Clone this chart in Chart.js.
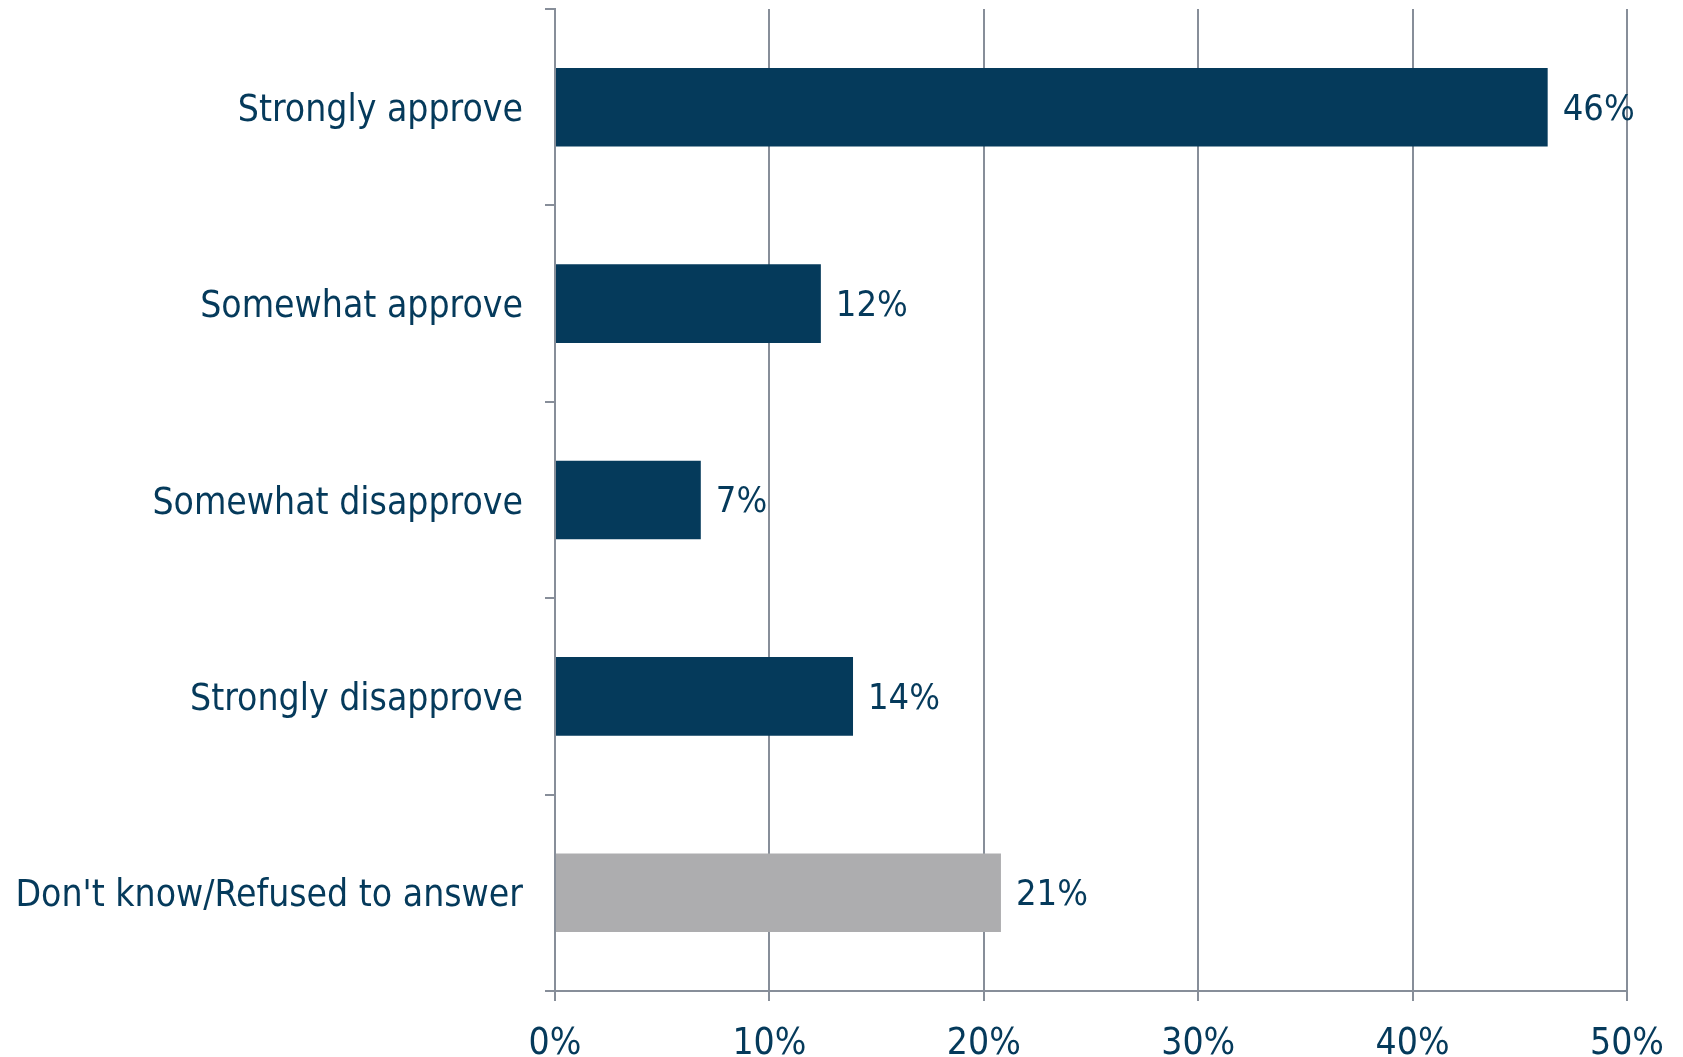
<!DOCTYPE html>
<html>
<head>
<meta charset="utf-8">
<script src="https://cdn.jsdelivr.net/npm/chart.js@4/dist/chart.umd.min.js"></script>
<style>
  html, body { margin: 0; padding: 0; background: #fff; }
  #wrap { width: 1683px; height: 1057px; }
</style>
</head>
<body>
<div id="wrap"><canvas id="approvalChart"></canvas></div>
<script>
// answers and shares
var categories = [
    'Strongly approve',
    'Somewhat approve',
    'Somewhat disapprove',
    'Strongly disapprove',
    "Don't know/Refused to answer"
];
var shares = [46.3, 12.4, 6.8, 13.9, 20.8];
var shareLabels = ['46%', '12%', '7%', '14%', '21%'];
var barColors = ['#053a5b', '#053a5b', '#053a5b', '#053a5b', '#adadaf'];

var navy = '#053a5b';
var gridGrey = '#878e99';
var fontFamily = '"DejaVu Sans Condensed", "DejaVu Sans", sans-serif';

// value labels to the right of each bar
var valueLabels = {
    id: 'valueLabels',
    afterDatasetsDraw: function (chart) {
        var ctx = chart.ctx;
        var meta = chart.getDatasetMeta(0);
        ctx.save();
        ctx.font = '36px ' + fontFamily;
        ctx.fillStyle = navy;
        ctx.textAlign = 'left';
        ctx.textBaseline = 'middle';
        meta.data.forEach(function (bar, i) {
            ctx.fillText(shareLabels[i], bar.x + 15, bar.y + 3);
        });
        ctx.restore();
    }
};

var ctx = document.getElementById('approvalChart');
var approvalChart = new Chart(ctx, {
    type: 'bar',
    data: {
        labels: categories,
        datasets: [{
            data: shares,
            backgroundColor: barColors,
            borderWidth: 0,
            barPercentage: 0.4,
            categoryPercentage: 1
        }]
    },
    options: {
        indexAxis: 'y',
        responsive: true,
        maintainAspectRatio: false,
        animation: { duration: 0 },
        layout: { padding: { top: 9, right: 56, left: 0, bottom: 0 } },
        plugins: {
            legend: { display: false },
            tooltip: { enabled: false }
        },
        scales: {
            x: {
                min: 0,
                max: 50,
                ticks: {
                    stepSize: 10,
                    color: navy,
                    font: { family: fontFamily, size: 37 },
                    padding: 21,
                    callback: function (v) { return v + '%'; }
                },
                grid: {
                    color: gridGrey,
                    lineWidth: 2,
                    tickLength: 10,
                    drawOnChartArea: true
                },
                border: { color: gridGrey, width: 2 },
                afterFit: function (scale) {
                    scale.height = 66;
                    scale.paddingLeft = 0;
                    scale.paddingRight = 0;
                }
            },
            y: {
                ticks: {
                    color: navy,
                    font: { family: fontFamily, size: 37 },
                    padding: 22,
                    labelOffset: 4
                },
                grid: {
                    color: gridGrey,
                    lineWidth: 2,
                    tickLength: 10,
                    drawOnChartArea: false,
                    offset: true
                },
                border: { color: gridGrey, width: 2 },
                afterFit: function (scale) {
                    scale.width = 555;
                    scale.paddingTop = 0;
                    scale.paddingBottom = 0;
                }
            }
        }
    },
    plugins: [valueLabels]
});
</script>
</body>
</html>
